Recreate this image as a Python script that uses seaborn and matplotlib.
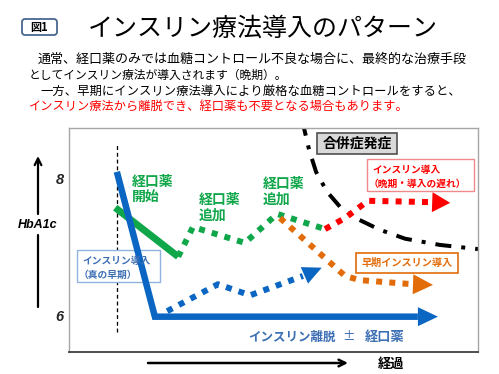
import matplotlib
matplotlib.use("Agg")
import numpy as np
import pandas as pd
import matplotlib.pyplot as plt
import seaborn as sns
from matplotlib.transforms import Affine2D
from matplotlib.patches import Rectangle, FancyBboxPatch
from matplotlib.lines import Line2D

# time axis (arbitrary units, 0-100) vs HbA1c
blue_t = [11.7, 21.0, 85.3]
blue_v = [8.09, 5.99, 5.99]
blue_tip = (90.2, 5.99)

green_t = [11.3, 26.7]
green_v = [7.57, 6.86]

green_dot_t = [26.7, 30.3, 43.0, 50.9, 62.6]
green_dot_v = [6.86, 7.29, 7.06, 7.48, 7.26]

red_t = [62.6, 67.5, 73.1, 88.7]
red_v = [7.26, 7.42, 7.67, 7.65]
red_tip = (93.2, 7.64)

orange_t = [51.6, 67.5, 71.1, 84.1]
orange_v = [7.42, 6.58, 6.52, 6.46]
orange_tip = (89.0, 6.45)

blue_dot_t = [24.0, 36.4, 44.3, 57.2]
blue_dot_v = [6.07, 6.46, 6.30, 6.58]
blue_dot_tip = (61.8, 6.70)

comp_t = [57.0, 58.7, 60.4, 63.1, 66.3, 70.4, 76.0, 82.2, 90.7, 100]
comp_v = [8.84, 8.41, 8.09, 7.80, 7.58, 7.41, 7.25, 7.12, 7.03, 6.97]

start_t = [11.7, 11.7]
start_v = [5.77, 8.51]

hba1c_ticks = [6, 8]
hba1c_labels = ["6", "8"]

BLUE = "#0a66c2"
GREEN = "#10a64a"
RED = "#ff0000"
ORANGE = "#e36c0a"
TXTBLUE = "#3d6fb4"

sns.set_theme(style="white")
plt.rcParams["font.family"] = ["Noto Sans CJK JP", "DejaVu Sans"]

W, H = 499, 374
fig = plt.figure(figsize=(W / 100, H / 100), dpi=100)
ax = fig.add_axes([69 / W, 1 - 352 / H, 409 / W, 224 / H])
ax.set_xlim(0, 100)
ax.set_ylim(5.478, 8.725)
pix = Affine2D().scale(1 / W, -1 / H).translate(0, 1) + fig.transFigure


def px(v):
    return v * 0.72


def draw(t, v, color, lw, ls, z):
    sns.lineplot(x=t, y=v, sort=False, estimator=None, color=color,
                 linewidth=px(lw), linestyle=ls, dash_capstyle="butt",
                 solid_capstyle="butt", solid_joinstyle="miter", zorder=z, ax=ax)


def head(t, v, tip, color, hl, hw, z):
    ax.annotate("", xy=tip, xytext=(t[-1], v[-1]),
                arrowprops=dict(arrowstyle=f"-|>,head_length={px(hl)},head_width={px(hw)}",
                                color=color, lw=0, shrinkA=0, shrinkB=0, mutation_scale=1),
                zorder=z)


dots = (0, (1, 1.2))
draw(start_t, start_v, "black", 1.3, (0, (3, 2.2)), 1)
draw(comp_t, comp_v, "black", 4, (0, (4, 2.5, 1, 2.5)), 2)
draw(green_t, green_v, GREEN, 7, "-", 4)
draw(green_dot_t, green_dot_v, GREEN, 6, dots, 4)
draw(orange_t, orange_v, ORANGE, 6, dots, 5)
head(orange_t, orange_v, orange_tip, ORANGE, 20, 10, 5)
draw(red_t, red_v, RED, 6, dots, 6)
head(red_t, red_v, red_tip, RED, 18, 10, 6)
draw(blue_dot_t, blue_dot_v, BLUE, 6, dots, 5)
head(blue_dot_t, blue_dot_v, blue_dot_tip, BLUE, 19, 9, 5)
draw(blue_t, blue_v, BLUE, 6.5, "-", 7)
head(blue_t, blue_v, blue_tip, BLUE, 20, 9.5, 7)

for s in ["left", "top", "right"]:
    ax.spines[s].set_color("#a6a6a6")
    ax.spines[s].set_linewidth(1)
ax.spines["bottom"].set_color("#404040")
ax.spines["bottom"].set_linewidth(1.3)
ax.set_xticks([])
ax.set_yticks(hba1c_ticks)
ax.set_yticklabels(hba1c_labels, fontfamily="Liberation Sans", fontweight="bold",
                   fontstyle="italic", fontsize=10.5)
ax.tick_params(axis="y", length=0, pad=4)
ax.set_xlabel("")
ax.set_ylabel("")


def box(x0, y0, x1, y1, ec, fc="white", lw=1, z=3, rounded=False):
    if rounded:
        p = FancyBboxPatch((x0, y0), x1 - x0, y1 - y0, boxstyle="round,pad=0,rounding_size=3",
                           transform=pix, ec=ec, fc=fc, lw=lw, clip_on=False, zorder=z)
    else:
        p = Rectangle((x0, y0), x1 - x0, y1 - y0, transform=pix, ec=ec, fc=fc,
                      lw=lw, clip_on=False, zorder=z)
    ax.add_patch(p)


def label(x, y, s, size, color="black", weight="normal", ha="left", z=8, **kw):
    ax.text(x, y, s, transform=pix, fontsize=size, color=color, fontweight=weight,
            ha=ha, va="center", zorder=z, clip_on=False, **kw)


# header
box(22, 19, 57, 35, "#4a6890", lw=1.3, rounded=True, z=3)
label(39.5, 27, "図1", 8, weight="bold", ha="center")
label(88, 29, "インスリン療法導入のパターン", 18)
label(38, 59, "通常、経口薬のみでは血糖コントロール不良な場合に、最終的な治療手段", 9.4)
label(29, 75.5, "としてインスリン療法が導入されます（晩期）。", 8.5)
label(40, 91, "一方、早期にインスリン療法導入により厳格な血糖コントロールをすると、", 8.9)
label(29, 106.5, "インスリン療法から離脱でき、経口薬も不要となる場合もあります。", 8.8, color=RED)

# chart annotations
label(132, 182, "経口薬", 10, GREEN, "bold")
label(132, 198, "開始", 10, GREEN, "bold")
label(199, 200, "経口薬", 10, GREEN, "bold")
label(199, 216, "追加", 10, GREEN, "bold")
label(263, 184, "経口薬", 10, GREEN, "bold")
label(263, 200, "追加", 10, GREEN, "bold")

box(77, 250, 160, 282, "#8fb3df", z=3)
label(82, 261.5, "インスリン導入", 7, TXTBLUE, "bold", z=8)
label(79, 274.5, "（真の早期）", 7, TXTBLUE, "bold", z=8)

box(317, 133, 397, 154, "#505050", fc="#d9d9d9", lw=1.2, z=8)
label(357, 143.5, "合併症発症", 10, "black", "bold", ha="center", z=9)

box(367, 159, 474, 191, "#f08a8a", z=8)
label(372, 170, "インスリン導入", 7, RED, "bold", z=9)
label(369, 184, "（晩期・導入の遅れ）", 7, RED, "bold", z=9)

box(356, 253, 458, 273, ORANGE, lw=1.2, z=8)
label(407, 263, "早期インスリン導入", 7.3, ORANGE, "bold", ha="center", z=9)

label(248, 337, "インスリン離脱", 9, TXTBLUE, "bold")
label(349, 337, "±", 9, TXTBLUE, "normal", ha="center")
label(365, 337, "経口薬", 9.5, TXTBLUE, "bold")

# outer axis arrows and labels
fig.add_artist(Line2D([38, 38], [235, 307], transform=pix, lw=1.6, color="black"))
ax.annotate("", xy=(38, 156), xytext=(38, 214), xycoords=pix, textcoords=pix,
            arrowprops=dict(arrowstyle="->", lw=1.6, color="black", shrinkA=0, shrinkB=0),
            annotation_clip=False)
label(37.5, 225, "HbA1c", 9, ha="center", fontfamily="Liberation Sans", fontstyle="italic",
      weight="bold")
ax.annotate("", xy=(348, 363), xytext=(148, 363), xycoords=pix, textcoords=pix,
            arrowprops=dict(arrowstyle="->", lw=1.8, color="black", shrinkA=0, shrinkB=0),
            annotation_clip=False)
label(391, 364, "経過", 9.5, weight="bold", ha="center")

fig.savefig("out.png", dpi=100)
